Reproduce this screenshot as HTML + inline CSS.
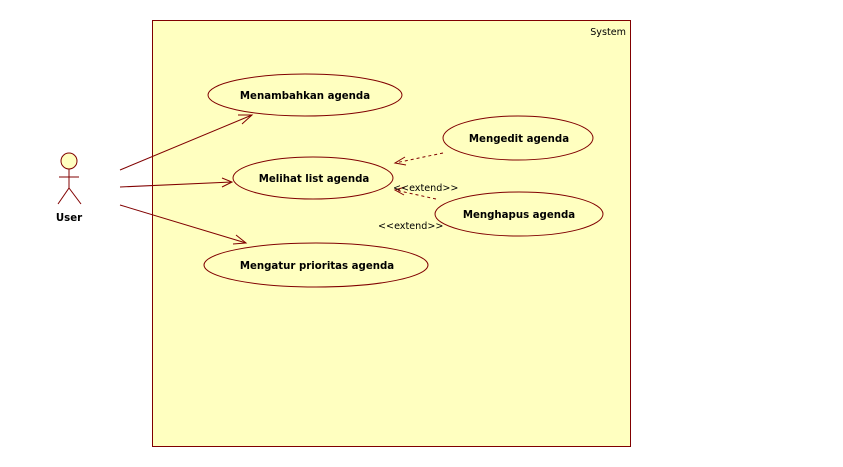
<!DOCTYPE html>
<html><head><meta charset="utf-8"><style>
body{margin:0;background:#fff;width:843px;height:467px;overflow:hidden}
svg{display:block}
.uc{font-family:"DejaVu Sans","Liberation Sans",sans-serif;font-weight:bold;font-size:10.2px;fill:#000}
.lb{font-family:"DejaVu Sans","Liberation Sans",sans-serif;font-size:9.6px;fill:#000}
</style></head><body>
<svg width="843" height="467">
<rect x="152.5" y="20.5" width="478" height="426" fill="#ffffc0" stroke="#800000"/>
<text class="lb" x="626" y="35" text-anchor="end">System</text>
<g stroke="#800000" fill="none">
<circle cx="69" cy="161" r="8" fill="#ffffc0"/>
<line x1="69" y1="169" x2="69" y2="188"/>
<line x1="59" y1="177" x2="79" y2="177"/>
<line x1="69" y1="188" x2="58" y2="204"/>
<line x1="69" y1="188" x2="81" y2="204"/>
</g>
<text class="uc" x="69" y="221" text-anchor="middle">User</text>
<g stroke="#800000" fill="none">
<g><line x1="120" y1="170" x2="252" y2="115"/><polyline points="238,115 252,115 242,124"/></g>
<g><line x1="120" y1="187" x2="232" y2="182"/><polyline points="222,178 232,182 222,187"/></g>
<g><line x1="120" y1="205" x2="246" y2="243"/><polyline points="233,244 246,243 236,235"/></g>
<g stroke-dasharray="3,3"><line x1="443" y1="153" x2="395" y2="163"/></g>
<polyline points="405,157 395,163 406,165" stroke="#800000"/>
<g stroke-dasharray="3,3"><line x1="436" y1="199" x2="395" y2="190"/></g>
<polyline points="405,187 395,190 404,195" stroke="#800000"/>
</g>
<text class="lb" x="393" y="191">&lt;&lt;extend&gt;&gt;</text>
<text class="lb" x="378" y="229">&lt;&lt;extend&gt;&gt;</text>
<g fill="#ffffc0" stroke="#800000">
<ellipse cx="305" cy="95" rx="97" ry="21"/>
<ellipse cx="313" cy="178" rx="80" ry="21"/>
<ellipse cx="518" cy="138" rx="75" ry="22"/>
<ellipse cx="519" cy="214" rx="84" ry="22"/>
<ellipse cx="316" cy="265" rx="112" ry="22"/>
</g>
<text class="uc" x="305" y="99" text-anchor="middle">Menambahkan agenda</text>
<text class="uc" x="314" y="182" text-anchor="middle">Melihat list agenda</text>
<text class="uc" x="519" y="142" text-anchor="middle">Mengedit agenda</text>
<text class="uc" x="519" y="218" text-anchor="middle">Menghapus agenda</text>
<text class="uc" x="317" y="269" text-anchor="middle">Mengatur prioritas agenda</text>
</svg>
</body></html>
